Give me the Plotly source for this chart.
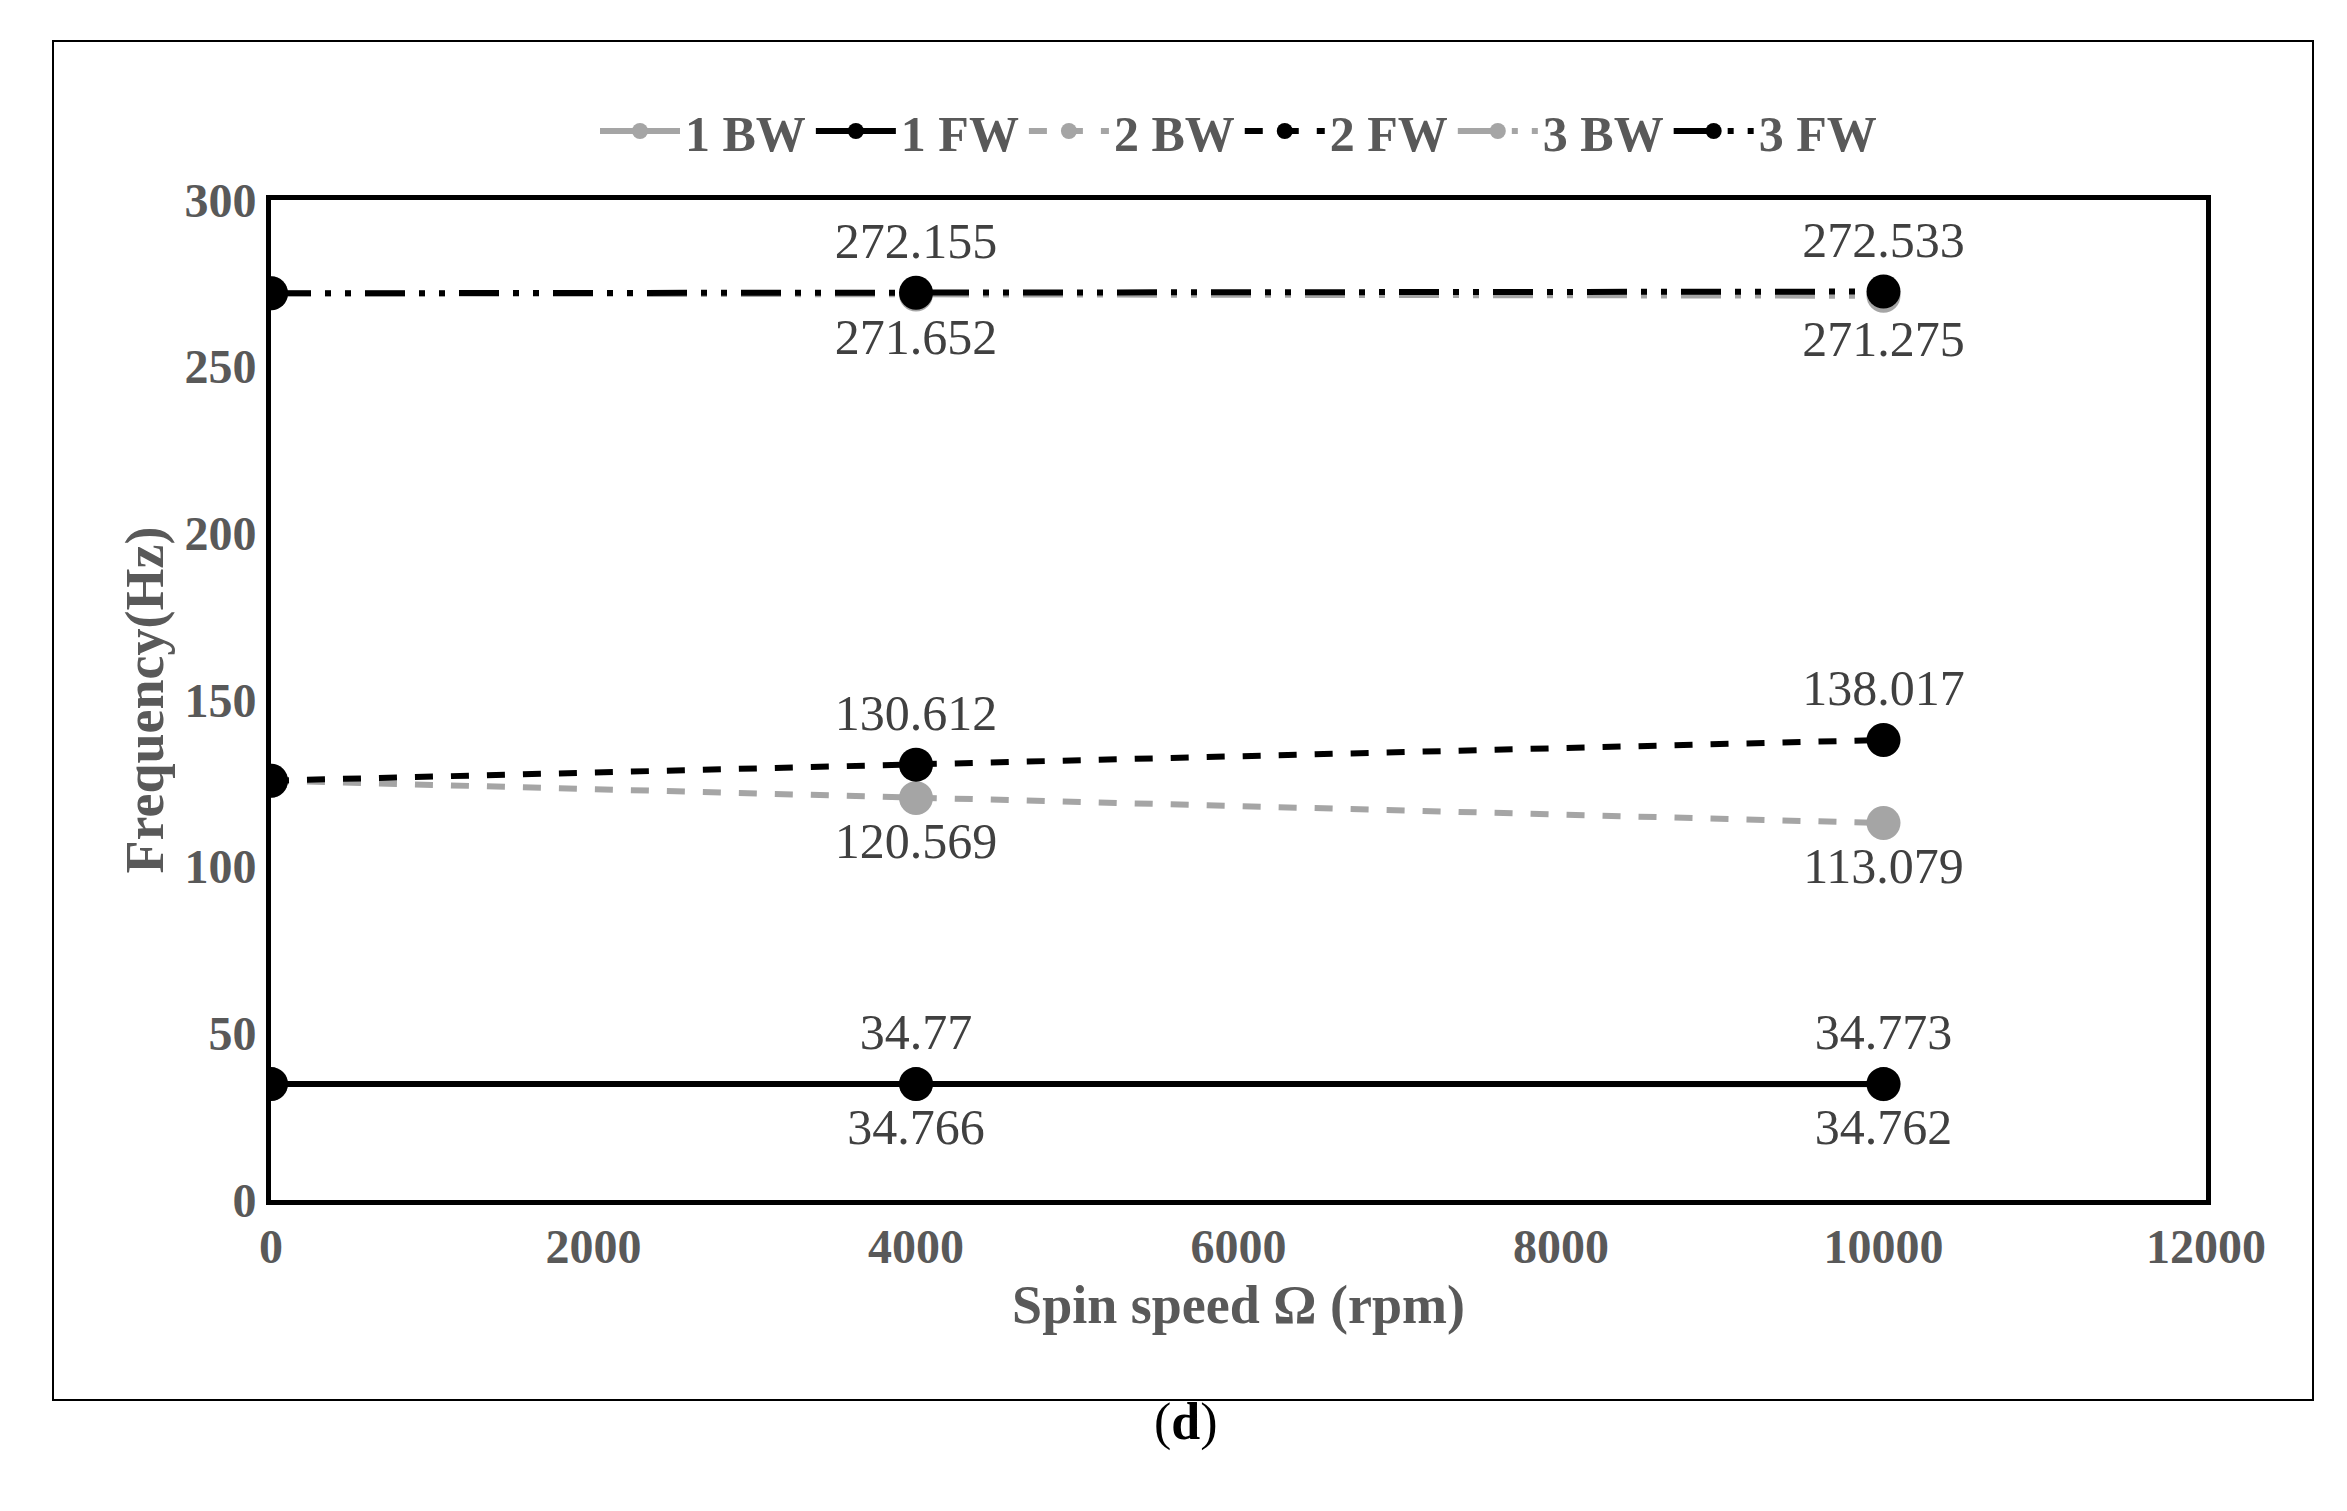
import plotly.graph_objects as go

x = [0, 4000, 10000]
bw1 = [34.77, 34.766, 34.762]
fw1 = [34.77, 34.77, 34.773]
bw2 = [125.8, 120.569, 113.079]
fw2 = [125.8, 130.612, 138.017]
bw3 = [272.0, 271.652, 271.275]
fw3 = [272.0, 272.155, 272.533]

GRAY = "#a5a5a5"
BLACK = "#000000"
dd = "40px,14px,6px,14px,6px,14px"

series = [
    ("1 BW", bw1, GRAY, "solid", "bottom center"),
    ("1 FW", fw1, BLACK, "solid", "top center"),
    ("2 BW", bw2, GRAY, "dash", "bottom center"),
    ("2 FW", fw2, BLACK, "dash", "top center"),
    ("3 BW", bw3, GRAY, dd, "bottom center"),
    ("3 FW", fw3, BLACK, dd, "top center"),
]

fig = go.Figure()
for name, y, c, dash, pos in series:
    fig.add_trace(go.Scatter(
        x=x, y=y, name=name, mode="lines+markers+text",
        line=dict(color=c, width=6, dash=dash),
        marker=dict(color=c, size=34),
        text=[""] + [str(v) for v in y[1:]],
        textposition=pos,
        textfont=dict(family="Liberation Serif", size=50, color="#404040"),
    ))

fig.update_layout(
    width=2347, height=1511,
    paper_bgcolor="white", plot_bgcolor="white",
    margin=dict(l=263, r=149, t=192, b=319),
    font=dict(family="Liberation Serif", color="#595959"),
    legend=dict(orientation="h", x=0.5, xanchor="center", y=1.03, yanchor="bottom",
                font=dict(size=50, color="#595959", family="Liberation Serif", weight="bold"),
                itemwidth=80),
    xaxis=dict(range=[0, 12000], dtick=2000, tickformat="d", showgrid=False, zeroline=False,
               showline=True, linecolor="black", linewidth=5, mirror=True,
               tickfont=dict(size=48, weight="bold", color="#595959"),
               title=dict(text="Spin speed Ω (rpm)", font=dict(size=54, weight="bold", color="#595959"), standoff=15)),
    yaxis=dict(range=[0, 300], dtick=50, showgrid=False, zeroline=False,
               showline=True, linecolor="black", linewidth=5, mirror=True,
               tickfont=dict(size=48, weight="bold", color="#595959"),
               title=dict(text="Frequency(Hz)", font=dict(size=54, weight="bold", color="#595959"), standoff=5)),
    shapes=[dict(type="rect", xref="paper", yref="paper",
                 x0=-218/1935, x1=2305/1935 - 263/1935, y0=(1511-1392-319)/1000, y1=(1511-33-319)/1000,
                 line=dict(color="black", width=2))],
    annotations=[dict(text="(<b>d</b>)", xref="paper", yref="paper", x=(1178-263)/1935, y=(1511-1445-319)/1000,
                      showarrow=False, font=dict(size=52, color="black", family="Liberation Serif"))],
)
fig.write_html("out.html")
